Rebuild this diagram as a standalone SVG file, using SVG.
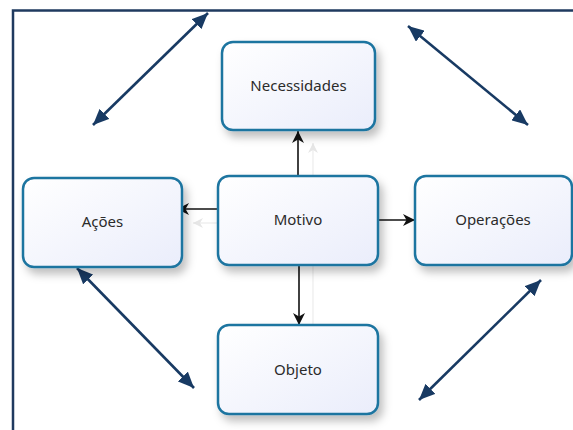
<svg xmlns="http://www.w3.org/2000/svg" width="573" height="430" viewBox="0 0 573 430">
  <defs>
    <linearGradient id="boxFill" x1="0" y1="0" x2="1" y2="1">
      <stop offset="0" stop-color="#ffffff"/>
      <stop offset="1" stop-color="#eaedfb"/>
    </linearGradient>
    <filter id="shadow" x="-10%" y="-10%" width="130%" height="140%">
      <feDropShadow dx="4" dy="6" stdDeviation="4" flood-color="#000" flood-opacity="0.25"/>
    </filter>
    <marker id="blackHead" viewBox="0 0 12 12" refX="12" refY="6" markerWidth="12" markerHeight="12" markerUnits="userSpaceOnUse" orient="auto">
      <path d="M0,0 L12,6 L0,12 L3.5,6 Z" fill="#111"/>
    </marker>
    <marker id="ghostHead" viewBox="0 0 10 10" refX="10" refY="5" markerWidth="10" markerHeight="10" markerUnits="userSpaceOnUse" orient="auto">
      <path d="M0,0 L10,5 L0,10 L3,5 Z" fill="#e6e6e6"/>
    </marker>
    <marker id="navyEnd" viewBox="0 0 16 14" refX="16" refY="7" markerWidth="16" markerHeight="14" markerUnits="userSpaceOnUse" orient="auto">
      <path d="M0,0 L16,7 L0,14 Z" fill="#183a63"/>
    </marker>
    <marker id="navyStart" viewBox="0 0 16 14" refX="0" refY="7" markerWidth="16" markerHeight="14" markerUnits="userSpaceOnUse" orient="auto">
      <path d="M16,0 L0,7 L16,14 Z" fill="#183a63"/>
    </marker>
  </defs>
  <style>
    .box { fill: url(#boxFill); stroke: #1e74a0; stroke-width: 2.5; filter: url(#shadow); }
    .label { font-family: "Noto Sans", "Open Sans", sans-serif; font-size: 15px; fill: #2b2b2b; text-anchor: middle; dominant-baseline: central; }
    .link { stroke: #111; stroke-width: 1.6; fill: none; marker-end: url(#blackHead); }
    .ghost { stroke: #ececec; stroke-width: 1.2; fill: none; }
    .dbl { stroke: #183a63; stroke-width: 2.6; fill: none; marker-start: url(#navyStart); marker-end: url(#navyEnd); }
    .frame { stroke: #1f3a5f; stroke-width: 2.5; fill: none; }
  </style>

  <rect width="573" height="430" fill="#ffffff"/>

  <!-- outer frame -->
  <path class="frame" d="M13,430 L13,10.5 L573,10.5"/>

  <!-- faint guide lines behind the nodes -->
  <g id="guides">
    <line class="ghost" x1="313" y1="176" x2="313" y2="143" marker-end="url(#ghostHead)"/>
    <line class="ghost" x1="218" y1="223" x2="193" y2="223" marker-end="url(#ghostHead)"/>
    <line class="ghost" x1="313" y1="265" x2="313" y2="325"/>
  </g>

  <!-- connectors -->
  <g id="connectors">
    <line class="link" x1="298" y1="176" x2="298" y2="131"/>
    <line class="link" x1="218" y1="209" x2="177" y2="209"/>
    <line class="link" x1="378" y1="220" x2="415" y2="220"/>
    <line class="link" x1="299" y1="265" x2="299" y2="325"/>
    <line class="dbl" x1="93" y1="125" x2="208" y2="13"/>
    <line class="dbl" x1="408" y1="26" x2="528" y2="125"/>
    <line class="dbl" x1="77" y1="268" x2="194" y2="388"/>
    <line class="dbl" x1="419" y1="400" x2="541" y2="280"/>
  </g>

  <!-- nodes -->
  <g id="necessidades">
    <rect class="box" x="222" y="42" width="153" height="88" rx="11"/>
    <text class="label" x="298.5" y="85">Necessidades</text>
  </g>
  <g id="acoes">
    <rect class="box" x="23" y="178" width="159" height="89" rx="11"/>
    <text class="label" x="102.5" y="221">Ações</text>
  </g>
  <g id="motivo">
    <rect class="box" x="218" y="176" width="160" height="89" rx="11"/>
    <text class="label" x="298" y="219">Motivo</text>
  </g>
  <g id="operacoes">
    <rect class="box" x="415" y="176" width="157" height="89" rx="11"/>
    <text class="label" x="493" y="219">Operações</text>
  </g>
  <g id="objeto">
    <rect class="box" x="218" y="325" width="160" height="89" rx="11"/>
    <text class="label" x="298" y="369">Objeto</text>
  </g>
</svg>
